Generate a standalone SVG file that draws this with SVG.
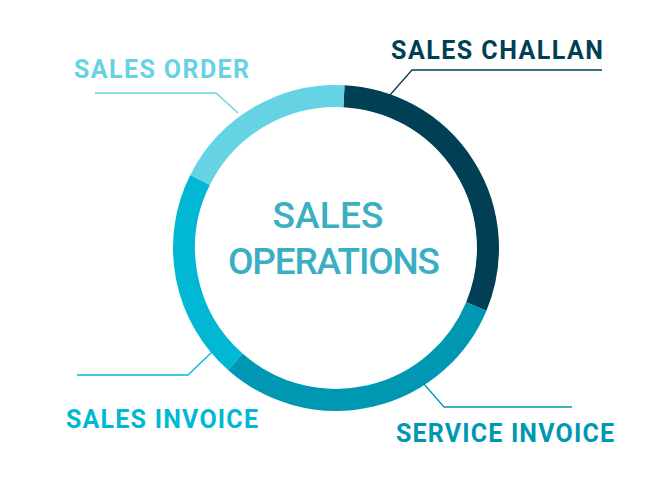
<svg xmlns="http://www.w3.org/2000/svg" width="652" height="480" viewBox="0 0 652 480">
<style>
.seg{fill:none;stroke-width:22}
.ld{fill:none;stroke-width:1.3}
.lb{font-family:Roboto,"Liberation Sans",sans-serif;font-weight:700;font-size:25px}
.ct{font-family:Roboto,"Liberation Sans",sans-serif;font-weight:500;font-size:37px;fill:#3aafc3}
</style>
<rect width="652" height="480" fill="#fff"/>
<g id="ring">
<path class="seg" stroke="#003f54" d="M343.95,96.2 A152,152 0 0 1 476.3,306.4"/>
<path class="seg" stroke="#0097b2" d="M476.3,306.4 A152,152 0 0 1 235.3,361.8"/>
<path class="seg" stroke="#00b8d4" d="M235.3,361.8 A152,152 0 0 1 200.1,179.9"/>
<path class="seg" stroke="#66d3e4" d="M200.1,179.9 A152,152 0 0 1 343.95,96.2"/>
</g>
<g id="connectors">
<polyline class="ld" stroke="#003f54" points="390,95 412,70 602,70"/>
<polyline class="ld" stroke="#66d3e4" points="238,113 216,93 95,93"/>
<polyline class="ld" stroke="#00b8d4" points="212,352 188,375 77,375"/>
<polyline class="ld" stroke="#0097b2" points="424,384 444,407 572,407"/>
</g>
<g id="center"><text class="ct" x="328" y="228" text-anchor="middle" textLength="111">SALES</text><text class="ct" x="334" y="274" text-anchor="middle" textLength="212">OPERATIONS</text></g>
<g id="sales-challan"><text class="lb" x="391" y="59" fill="#003f54" textLength="212">SALES CHALLAN</text></g>
<g id="sales-order"><text class="lb" x="74" y="78" fill="#66d3e4" textLength="175">SALES ORDER</text></g>
<g id="sales-invoice"><text class="lb" x="66" y="428" fill="#00b8d4" textLength="192">SALES INVOICE</text></g>
<g id="service-invoice"><text class="lb" x="396" y="442" fill="#0097b2" textLength="218">SERVICE INVOICE</text></g>
</svg>
